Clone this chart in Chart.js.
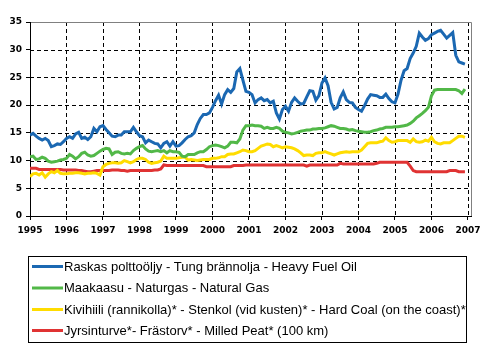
<!DOCTYPE html>
<html>
<head>
<meta charset="utf-8">
<script src="https://cdn.jsdelivr.net/npm/chart.js@4"></script>
<style>
  html, body { margin: 0; padding: 0; background: #fff; }
  #wrap { width: 495px; height: 351px; }
</style>
</head>
<body>
<div id="wrap"><canvas id="chart" width="495" height="351"></canvas></div>
<script>
// monthly values, Jan 1995 .. Dec 2006 (index = months since Jan 1995)
const years = [1995, 1996, 1997, 1998, 1999, 2000, 2001, 2002, 2003, 2004, 2005, 2006, 2007];
const yTicks = [0, 5, 10, 15, 20, 25, 30, 35];

const heavyFuelOil = [
  14.6, 14.9, 14.4, 14.0, 13.7, 14.0, 13.6, 12.5, 12.7, 13.0, 12.9, 13.4,
  14.0, 14.3, 14.0, 14.8, 15.1, 14.0, 14.2, 13.8, 14.3, 15.8, 15.2, 16.1,
  16.3, 15.6, 15.0, 14.4, 14.3, 14.6, 14.6, 15.2, 15.2, 15.2, 16.0, 15.2,
  14.5, 14.3, 13.2, 13.7, 13.4, 13.1, 13.0, 12.3, 13.1, 13.4, 12.6, 13.4,
  12.6, 12.7, 13.2, 13.8, 14.3, 14.5, 15.0, 16.5, 17.6, 18.3, 18.3, 18.6,
  19.6, 20.8, 21.8, 20.2, 21.9, 22.8, 22.3, 23.0, 26.0, 26.6, 24.5, 22.5,
  22.3, 21.9, 20.4, 21.0, 21.3, 20.8, 21.0, 20.4, 20.7, 18.6, 17.5, 19.2,
  19.8, 18.9, 20.5, 21.3, 20.7, 20.2, 20.3, 21.5, 22.6, 22.5, 20.9, 21.7,
  24.0, 24.9, 23.5, 20.5, 19.3, 19.6, 21.3, 22.4, 21.0, 20.5, 20.4, 19.6,
  19.2, 18.9, 19.9, 21.1, 21.9, 21.8, 21.7, 21.4, 21.4, 22.0, 21.2, 20.6,
  20.4, 22.0, 24.5, 26.2, 26.6, 28.4, 29.4, 30.6, 33.0, 32.3, 31.7, 32.0,
  32.7, 33.0, 33.3, 33.5, 32.8, 32.1, 32.6, 33.1, 29.0, 27.8, 27.6, 27.4
];

const naturalGas = [
  10.7, 10.8, 10.2, 10.3, 10.6, 10.4, 9.9, 9.7, 9.8, 9.9, 10.1, 10.2,
  10.4, 11.1, 10.8, 10.3, 10.7, 11.3, 11.5, 11.0, 10.8, 10.9, 11.3, 11.7,
  12.0, 12.2, 12.1, 11.1, 11.5, 11.6, 11.3, 11.2, 11.3, 11.2, 11.8, 12.2,
  12.5, 12.7, 12.1, 11.7, 11.6, 11.7, 11.8, 11.6, 11.8, 11.4, 11.8, 11.6,
  11.6, 11.5, 10.8, 10.7, 11.1, 11.1, 11.1, 11.4, 11.6, 11.6, 12.0, 12.5,
  12.7, 12.8, 12.7, 12.5, 12.3, 12.6, 13.3, 13.3, 13.2, 13.9, 15.5, 16.3,
  16.3, 16.4, 16.3, 16.3, 16.2, 15.8, 16.0, 15.8, 15.8, 16.0, 15.8, 15.3,
  15.1, 15.0, 14.8, 14.9, 15.1, 15.3, 15.4, 15.5, 15.5, 15.7, 15.7, 15.8,
  15.8, 15.9, 16.1, 16.3, 16.2, 16.0, 15.8, 15.8, 15.7, 15.5, 15.6, 15.4,
  15.3, 15.2, 15.1, 15.1, 15.2, 15.4, 15.5, 15.7, 15.8, 16.0, 16.0, 16.0,
  16.1, 16.1, 16.2, 16.3, 16.4, 16.7, 17.1, 17.7, 18.1, 18.5, 19.0, 19.6,
  21.7, 22.7, 22.8, 22.8, 22.8, 22.8, 22.8, 22.8, 22.8, 22.6, 22.1, 22.9
];

const hardCoal = [
  7.1, 7.6, 7.7, 7.4, 7.8, 7.0, 7.6, 8.0, 7.8, 8.2, 7.7, 7.6,
  7.6, 7.7, 7.7, 7.8, 7.8, 7.7, 7.6, 7.7, 7.7, 7.8, 7.7, 7.4,
  8.9, 9.3, 9.5, 9.6, 9.6, 9.5, 9.6, 10.0, 9.8, 9.6, 9.8, 10.2,
  10.4, 10.4, 10.2, 9.7, 9.5, 9.6, 9.7, 9.9, 10.8, 10.4, 10.4, 10.4,
  10.4, 10.5, 10.6, 10.6, 10.1, 10.2, 10.1, 10.0, 10.1, 10.2, 10.2, 10.2,
  10.4, 10.4, 10.5, 10.7, 10.7, 11.1, 11.2, 11.2, 11.4, 11.6, 11.9, 11.8,
  11.6, 11.6, 11.8, 12.2, 12.6, 12.8, 13.0, 12.9, 12.5, 12.7, 12.5, 12.3,
  12.5, 12.4, 12.3, 12.1, 11.8, 11.4, 10.9, 11.0, 11.0, 10.9, 11.3, 11.4,
  11.4, 11.6, 11.4, 11.2, 11.0, 11.2, 11.4, 11.5, 11.6, 11.5, 11.6, 11.6,
  11.6, 11.9, 12.5, 13.1, 13.2, 13.2, 13.2, 13.4, 13.5, 14.1, 13.6, 13.3,
  13.4, 13.6, 13.6, 13.6, 13.6, 13.3, 13.9, 13.4, 13.3, 13.4, 13.7, 13.5,
  14.2, 13.4, 13.1, 13.0, 13.2, 13.2, 13.2, 13.6, 14.0, 14.4, 14.4, 14.2
];

const milledPeat = [
  8.6, 8.6, 8.6, 8.4, 8.4, 8.4, 8.4, 8.4, 8.4, 8.4, 8.4, 8.3,
  8.3, 8.3, 8.3, 8.3, 8.2, 8.2, 8.1, 8.0, 8.0, 8.1, 8.2, 8.2,
  8.2, 8.2, 8.2, 8.3, 8.3, 8.3, 8.2, 8.2, 8.1, 8.2, 8.2, 8.2,
  8.2, 8.2, 8.2, 8.2, 8.2, 8.3, 8.3, 8.5, 9.2, 9.1, 9.1, 9.1,
  9.1, 9.1, 9.1, 9.1, 9.1, 9.1, 9.1, 9.1, 9.1, 9.1, 8.9, 8.9,
  8.9, 8.9, 8.9, 8.9, 8.9, 8.9, 8.9, 9.1, 9.1, 9.1, 9.1, 9.2,
  9.2, 9.2, 9.2, 9.2, 9.2, 9.2, 9.2, 9.2, 9.2, 9.2, 9.2, 9.2,
  9.2, 9.2, 9.2, 9.2, 9.2, 9.2, 9.2, 9.0, 9.2, 9.2, 9.2, 9.2,
  9.2, 9.2, 9.2, 9.2, 9.2, 9.2, 9.5, 9.4, 9.4, 9.4, 9.4, 9.4,
  9.4, 9.4, 9.4, 9.4, 9.4, 9.4, 9.5, 9.7, 9.7, 9.7, 9.7, 9.7,
  9.7, 9.7, 9.7, 9.7, 9.7, 9.0, 8.2, 8.0, 8.0, 8.0, 8.0, 8.0,
  8.0, 8.0, 8.0, 8.0, 8.0, 8.0, 8.2, 8.2, 8.2, 8.0, 8.0, 8.0
];

const labels = [
  'Raskas polttoöljy - Tung brännolja - Heavy Fuel Oil',
  'Maakaasu - Naturgas - Natural Gas',
  'Kivihiili (rannikolla)* - Stenkol (vid kusten)* - Hard Coal (on the coast)*',
  'Jyrsinturve*- Frästorv* - Milled Peat* (100 km)'
];
const colors = ['#1b68b2', '#52b848', '#ffdc00', '#e03333'];

const toPoints = (arr) => arr.map((v, i) => ({ x: i, y: v }));
const series = [heavyFuelOil, naturalGas, hardCoal, milledPeat];

// dashed black grid + grey frame on top and right, drawn first so the lines sit on top
const plotGrid = {
  id: 'plotGrid',
  beforeDraw(chart) {
    const { ctx, chartArea: a, scales } = chart;
    ctx.save();
    ctx.strokeStyle = '#000';
    ctx.lineWidth = 1;
    ctx.setLineDash([4, 3]);
    ctx.beginPath();
    for (let i = 1; i < years.length; i++) {
      const px = Math.round(scales.x.getPixelForValue(i * 12)) + 0.5;
      ctx.moveTo(px, a.top);
      ctx.lineTo(px, a.bottom);
    }
    yTicks.forEach((v) => {
      if (v === 0 || v === 35) return;
      const py = Math.round(scales.y.getPixelForValue(v)) + 0.5;
      ctx.moveTo(a.left, py);
      ctx.lineTo(a.right, py);
    });
    ctx.stroke();
    ctx.setLineDash([]);
    ctx.strokeStyle = '#808080';
    ctx.beginPath();
    ctx.moveTo(a.left - 4, Math.round(a.top) + 0.5);
    ctx.lineTo(Math.round(a.right) + 0.5, Math.round(a.top) + 0.5);
    ctx.lineTo(Math.round(a.right) + 0.5, a.bottom);
    ctx.stroke();
    ctx.restore();
  }
};

// box legend below the plot, like the original
const boxLegend = {
  id: 'boxLegend',
  afterDraw(chart) {
    const { ctx } = chart;
    ctx.save();
    ctx.strokeStyle = '#000';
    ctx.lineWidth = 1;
    ctx.strokeRect(28.5, 256.5, 438, 86);
    ctx.font = '13px "Liberation Sans", Arial, sans-serif';
    ctx.textBaseline = 'middle';
    ctx.fillStyle = '#000';
    const rows = [266.5, 288, 309.5, 330.5];
    chart.data.datasets.forEach((ds, i) => {
      ctx.strokeStyle = ds.borderColor;
      ctx.lineWidth = 3;
      ctx.beginPath();
      ctx.moveTo(32, rows[i]);
      ctx.lineTo(63, rows[i]);
      ctx.stroke();
      ctx.fillText(ds.label, 64, rows[i] + 0.5);
    });
    ctx.restore();
  }
};

const tickFont = { family: '"DejaVu Sans", Verdana, sans-serif', size: 9, weight: 'bold' };

new Chart(document.getElementById('chart'), {
  type: 'line',
  data: {
    datasets: series.map((s, i) => ({
      label: labels[i],
      data: toPoints(s),
      borderColor: colors[i],
      backgroundColor: colors[i],
      borderWidth: 3,
      pointRadius: 0,
      tension: 0,
      fill: false,
      order: i
    }))
  },
  options: {
    responsive: false,
    animation: false,
    layout: { padding: { left: 0, right: 24, top: 22, bottom: 115 } },
    plugins: { legend: { display: false }, tooltip: { enabled: false } },
    scales: {
      x: {
        type: 'linear',
        min: 0,
        max: 145,
        afterBuildTicks: (scale) => {
          scale.ticks = years.map((y, i) => ({ value: i * 12 }));
        },
        afterFit: (scale) => { scale.height = 20; },
        ticks: {
          color: '#000',
          font: tickFont,
          padding: 5,
          maxRotation: 0,
          autoSkip: false,
          callback: (v) => String(years[Math.round(v / 12)])
        },
        grid: { drawOnChartArea: false, tickColor: '#000', tickLength: 4 },
        border: { display: true, color: '#000', width: 1 }
      },
      y: {
        min: 0,
        max: 35,
        afterBuildTicks: (scale) => {
          scale.ticks = yTicks.map((v) => ({ value: v }));
        },
        afterFit: (scale) => { scale.width = 30; },
        ticks: { color: '#000', font: tickFont, padding: 4 },
        grid: { drawOnChartArea: false, tickColor: '#000', tickLength: 4 },
        border: { display: true, color: '#000', width: 1 }
      }
    }
  },
  plugins: [plotGrid, boxLegend]
});
</script>
</body>
</html>
